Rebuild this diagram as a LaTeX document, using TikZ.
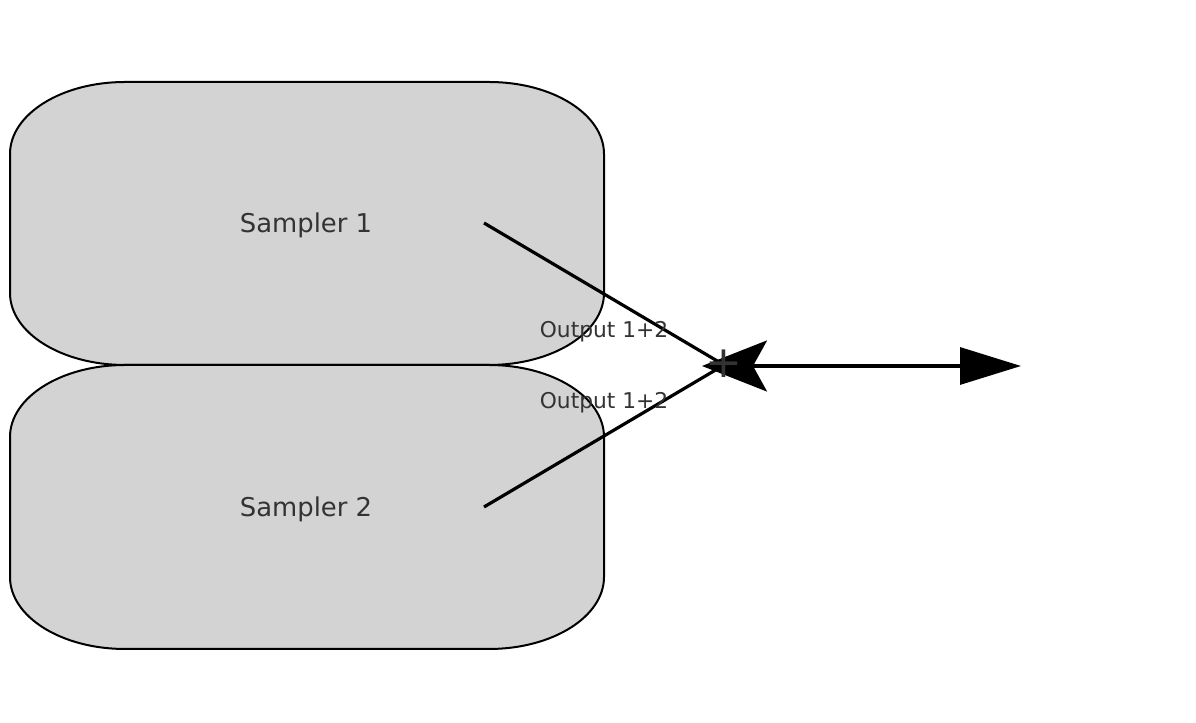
\documentclass[tikz,border=0pt]{standalone}
\usepackage{fontspec}
\setmainfont{DejaVu Sans}
\usetikzlibrary{arrows.meta}
\definecolor{boxfill}{HTML}{D3D3D3}
\definecolor{txt}{HTML}{333333}
\tikzset{
  samplerbox/.style={fill=boxfill, draw=black, line width=1.5pt},
  boxlabel/.style={text=txt, font=\fontsize{19.4}{23}\selectfont, inner sep=0pt},
  outlabel/.style={text=txt, font=\fontsize{16.3}{19}\selectfont, inner sep=0pt},
  connector/.style={draw=black, line width=2.4pt},
  sumarrow/.style={draw=black, line width=2.4pt,
    {Stealth[length=48.75pt, width=38.25pt, inset=10.5pt]}-{Triangle[length=45.75pt, width=27.75pt]}},
  plussign/.style={text=txt, font=\fontsize{33}{33}\selectfont, inner sep=0pt}
}
\begin{document}
\begin{tikzpicture}[x=0.75pt, y=0.75pt]
\fill[white] (0,0) rectangle (1196,723);
\useasboundingbox (0,0) rectangle (1196,723);
% Sampler 1 box
\path[samplerbox] (125,641) -- (489,641)
  arc[start angle=90, end angle=0, x radius=115, y radius=72] -- (604,430)
  arc[start angle=0, end angle=-90, x radius=115, y radius=72] -- (125,358)
  arc[start angle=270, end angle=180, x radius=115, y radius=72] -- (10,569)
  arc[start angle=180, end angle=90, x radius=115, y radius=72] -- cycle;
% Sampler 2 box
\path[samplerbox] (125,358) -- (489,358)
  arc[start angle=90, end angle=0, x radius=115, y radius=72] -- (604,146)
  arc[start angle=0, end angle=-90, x radius=115, y radius=72] -- (125,74)
  arc[start angle=270, end angle=180, x radius=115, y radius=72] -- (10,286)
  arc[start angle=180, end angle=90, x radius=115, y radius=72] -- cycle;
\node[boxlabel] (s1) at (306,498) {Sampler 1};
\node[boxlabel] (s2) at (306,214) {Sampler 2};
\coordinate (s1out) at (484,500);
\coordinate (s2out) at (484,216);
\coordinate (join) at (724,358);
\coordinate (tip) at (702,357);
\coordinate (out) at (1021,357);
\draw[connector] (s1out) -- (join);
\draw[connector] (s2out) -- (join);
\node[outlabel] (lab1) at (604,391) {Output 1+2};
\node[outlabel] (lab2) at (604,320) {Output 1+2};
\draw[sumarrow] (tip) -- (out);
\node[plussign] (plus) at (724,359) {+};
\end{tikzpicture}
\end{document}
